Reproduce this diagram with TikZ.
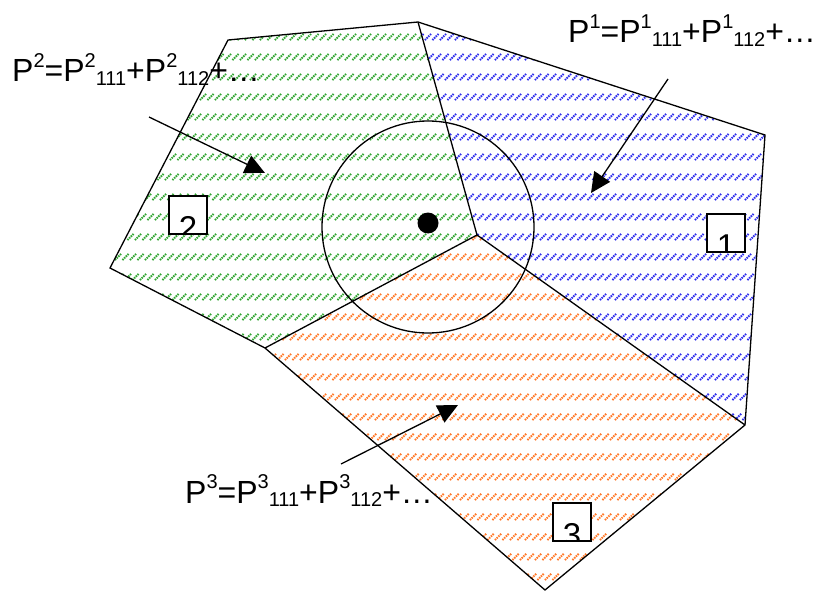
\documentclass[tikz,border=0pt]{standalone}
\usepackage{fontspec}
\setmainfont{Liberation Sans}
\usepackage{tikz}
\usetikzlibrary{arrows.meta,calc}
\definecolor{cellGreen}{RGB}{50,165,50}
\definecolor{cellBlue}{RGB}{45,45,235}
\definecolor{cellOrange}{RGB}{255,120,40}

\newcommand{\upidx}[1]{\raisebox{0.45em}{\fontsize{20}{21}\selectfont #1}}
\newcommand{\lowidx}[1]{\raisebox{-0.12em}{\fontsize{20}{21}\selectfont #1}}

\begin{document}
\begin{tikzpicture}[
  x=1pt, y=-1pt,
  >={Triangle[length=20pt,width=19pt]},
  edge/.style={
    line width=1.3pt,
    line join=miter
  },
  hatch/.style={
    line width=1.9pt,
    dash pattern=on 1.5pt off 0.9pt on 1.5pt off 0.9pt on 1.5pt off 0.9pt on 1.5pt off 19.58pt
  },
  numbox/.style={
    draw,
    fill=white,
    line width=1.3pt,
    minimum width=38pt,
    minimum height=38pt,
    inner sep=0pt
  },
  numlabel/.style={
    font=\fontsize{33}{36}\selectfont,
    inner sep=0pt,
    anchor=base
  },
  formula/.style={
    font=\fontsize{32}{36}\selectfont,
    inner sep=0pt,
    anchor=base west
  },
  pointer/.style={
    ->,
    line width=1.3pt
  }
]
  \useasboundingbox (0,0) rectangle (824,596);

  % ----------------------------------------------------
  % CELL CORNERS
  % ----------------------------------------------------
  \coordinate (p_topleft) at (228,40);
  \coordinate (p_top)     at (418,22);
  \coordinate (p_right)   at (765,135);
  \coordinate (p_rlow)    at (745,425);
  \coordinate (p_bottom)  at (545,590);
  \coordinate (p_mid)     at (265,348);
  \coordinate (p_left)    at (110,268);
  \coordinate (p_centre)  at (477,235);

  % ----------------------------------------------------
  % HATCHED CELLS
  % ----------------------------------------------------
  \begin{scope}
    \clip (p_topleft) -- (p_top) -- (p_centre) -- (p_mid) -- (p_left) -- cycle;
    \foreach \k in {17,...,112}
      \draw[hatch, cellGreen] ({-600+7.5*\k},600) -- ++(580,-580);
  \end{scope}

  \begin{scope}
    \clip (p_top) -- (p_right) -- (p_rlow) -- (p_centre) -- cycle;
    \foreach \k in {58,...,160}
      \draw[hatch, cellBlue] ({-600+7.5*\k},600) -- ++(580,-580);
  \end{scope}

  \begin{scope}
    \clip (p_centre) -- (p_rlow) -- (p_bottom) -- (p_mid) -- cycle;
    \foreach \k in {66,...,180}
      \draw[hatch, cellOrange] ({-600+7.5*\k},600) -- ++(370,-370);
  \end{scope}

  % Cell borders
  \draw[edge] (p_topleft) -- (p_top) -- (p_right) -- (p_rlow) -- (p_bottom)
    -- (p_mid) -- (p_left) -- cycle;
  \draw[edge] (p_top) -- (p_centre) -- (p_rlow);
  \draw[edge] (p_centre) -- (p_mid);

  % Circle and site point
  \draw[edge] (428,227) circle (106);
  \node[circle, fill, minimum size=21pt, inner sep=0pt] (site) at (428,223) {};

  % ----------------------------------------------------
  % NUMBER BOXES
  % ----------------------------------------------------
  \node[numbox] (box_one) at (726,233) {};
  \node[numbox] (box_two) at (188,215) {};
  \node[numbox] (box_three) at (572,522) {};

  \begin{scope}
    \clip (box_one.south west) rectangle (box_one.north east);
    \node[numlabel] (num_one) at ($(box_one.south)+(0,5)$) {1};
  \end{scope}
  \begin{scope}
    \clip (box_two.south west) rectangle (box_two.north east);
    \node[numlabel] (num_two) at ($(box_two.south)+(0,5)$) {2};
  \end{scope}
  \begin{scope}
    \clip (box_three.south west) rectangle (box_three.north east);
    \node[numlabel] (num_three) at ($(box_three.south)+(0,5)$) {3};
  \end{scope}

  % ----------------------------------------------------
  % FORMULAS AND POINTERS
  % ----------------------------------------------------
  \node[formula] (lab_one) at (568,43)
    {P\upidx{1}=P\upidx{1}\lowidx{111}+P\upidx{1}\lowidx{112}+…};
  \node[formula] (lab_two) at (12,82)
    {P\upidx{2}=P\upidx{2}\lowidx{111}+P\upidx{2}\lowidx{112}+…};
  \node[formula] (lab_three) at (185,503)
    {P\upidx{3}=P\upidx{3}\lowidx{111}+P\upidx{3}\lowidx{112}+…};

  \coordinate (tail_one) at (668,79);
  \coordinate (head_one) at (591,193);
  \coordinate (tail_two) at (149,117);
  \coordinate (head_two) at (265,173);
  \coordinate (tail_three) at (341,464);
  \coordinate (head_three) at (458,405);

  \draw[pointer] (tail_one) -- (head_one);
  \draw[pointer] (tail_two) -- (head_two);
  \draw[pointer] (tail_three) -- (head_three);

\end{tikzpicture}
\end{document}
